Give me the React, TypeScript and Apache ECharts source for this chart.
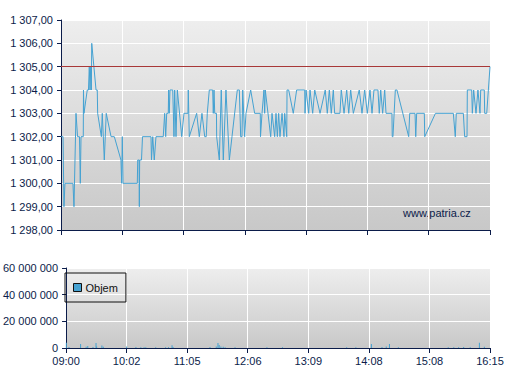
import React, { useEffect, useRef } from "react";
import * as echarts from "echarts";

// trade sequence position (0..420, one tick label per 60) and price
const priceX = [
  0, 2, 2.9, 3.9, 11.7, 12.7, 14.7, 16.2, 18.1, 18.9, 19.6, 21.8, 22.0, 22.5, 25.7, 26.9, 27.7, 28.4, 29.1, 29.7,
  30.1, 34.3, 35.5, 35.9, 39.5, 40.4, 42.4, 44.3, 49.0, 52.2, 58.7, 59.4, 60.0, 60.7, 74.7, 75.1, 76.4, 76.7, 77.0, 78.8,
  79.8, 88.1, 88.6, 89.8, 91.3, 93.0, 100.1, 101.5, 102.5, 103.5, 105.0, 105.4, 106.0, 106.7, 109.4, 110.6, 111.3, 112.6, 113.9, 114.5,
  118.2, 118.7, 120.4, 124.3, 124.6, 125.6, 132.8, 135.4, 138.0, 140.7, 142.2, 143.2, 145.2, 148.5, 149.1, 149.8, 150.5, 152.2, 152.4, 155.0,
  156.9, 158.9, 161.5, 164.8, 167.4, 172.6, 174.6, 175.9, 177.2, 177.9, 179.8, 181.1, 185.7, 189.6, 195.1, 195.3, 196.8, 198.7, 199.4, 200.0,
  205.3, 206.6, 209.2, 210.5, 211.8, 213.1, 214.4, 216.4, 218.3, 219.0, 221.0, 221.3, 222.9, 227.4, 230.7, 238.6, 238.9, 239.9, 242.5, 243.8,
  246.4, 248.4, 253.6, 258.7, 260.7, 262.7, 264.6, 266.6, 267.9, 273.1, 274.4, 277.1, 279.7, 281.7, 283.6, 286.2, 292.0, 294.7, 297.3, 299.9,
  302.5, 304.5, 306.4, 310.3, 311.6, 313.0, 314.9, 316.9, 318.2, 324.0, 324.3, 325.0, 327.3, 328.9, 340.4, 341.4, 346.6, 347.3, 348.2, 355.7,
  356.1, 366.6, 384.1, 386.0, 387.0, 393.9, 395.2, 397.5, 397.8, 402.1, 402.7, 404.0, 406.3, 408.2, 410.2, 410.9, 414.4, 414.8, 416.8, 420,
];
const priceY = [
  1302, 1302, 1299, 1300, 1300, 1299, 1303, 1302, 1302, 1300, 1302, 1302, 1304, 1303, 1304, 1304, 1305, 1304, 1305, 1304,
  1306, 1304, 1304, 1303, 1302, 1303, 1301, 1303, 1302, 1302, 1301, 1300, 1302, 1300, 1300, 1301, 1301, 1299, 1301, 1301,
  1302, 1302, 1301, 1302, 1301, 1302, 1302, 1303, 1302, 1303, 1303, 1304, 1303, 1304, 1304, 1302, 1304, 1302, 1304, 1304,
  1302, 1302, 1303, 1303, 1304, 1302, 1303, 1302, 1303, 1302, 1302, 1303, 1304, 1304, 1303, 1304, 1303, 1303, 1302, 1301,
  1304, 1301, 1304, 1301, 1302, 1304, 1304, 1302, 1302, 1304, 1302, 1303, 1304, 1303, 1303, 1302, 1303, 1304, 1303, 1304,
  1302, 1303, 1302, 1303, 1302, 1303, 1302, 1303, 1302, 1303, 1302, 1304, 1304, 1303, 1304, 1304, 1303, 1304, 1303, 1304,
  1303, 1304, 1303, 1304, 1303, 1304, 1303, 1304, 1303, 1303, 1304, 1303, 1304, 1303, 1304, 1303, 1304, 1303, 1304, 1303,
  1304, 1303, 1304, 1304, 1303, 1304, 1303, 1304, 1303, 1303, 1302, 1302, 1304, 1304, 1302, 1303, 1303, 1302, 1303, 1303,
  1302, 1303, 1303, 1302, 1303, 1303, 1302, 1302, 1304, 1304, 1303, 1304, 1303, 1304, 1303, 1304, 1304, 1303, 1303, 1305,
];

const volumeX = [
  0.3, 2.9, 14.4, 19.9, 21.5, 26.7, 29.7, 30.3, 35.5, 36.9, 60.0, 69.2, 74.1, 77.3, 79.0, 88.8, 98.6, 101.5, 105.0, 106.0,
  142.6, 148.8, 150.5, 151.7, 153.4, 155.7, 157.6, 167.4, 199.0, 214.4, 278.0, 287.1, 302.5, 313.0, 317.2, 320.4, 329.2, 378.6, 384.1, 388.9,
  393.9, 400.4, 409.5, 414.4,
];
const volumeY = [
  4000000, 800000, 3000000, 1000000, 1500000, 800000, 3800000, 1200000, 1800000, 1000000, 1200000, 800000, 600000, 600000, 600000, 500000, 600000, 500000, 2000000, 800000,
  800000, 1200000, 3800000, 2200000, 1200000, 1000000, 600000, 600000, 600000, 500000, 500000, 500000, 3000000, 800000, 1200000, 3000000, 600000, 500000, 600000, 600000,
  800000, 600000, 4000000, 1000000,
];

const timeLabels = ["09:00", "10:02", "11:05", "12:06", "13:09", "14:08", "15:08", "16:15"];
const referencePrice = 1305;
const volumeLegend = "Objem";
const watermark = "www.patria.cz";

const NAVY = "#0b1c4a";
const BLUE = "#45a2d2";
const FONT = "Arial, 'Liberation Sans', sans-serif";

function groupThousands(n: number): string {
  return String(n).replace(/\B(?=(\d{3})+(?!\d))/g, " ");
}

export default function App() {
  const ref = useRef<HTMLDivElement>(null);
  useEffect(() => {
    if (!ref.current) return;
    const chart = echarts.init(ref.current, null, { renderer: "svg" });
    const bg = new echarts.graphic.LinearGradient(0, 0, 0, 1, [
      { offset: 0, color: "#eeeeee" },
      { offset: 1, color: "#c8c8c8" },
    ]);
    const xCommon = {
      type: "value" as const,
      min: 0,
      max: 420,
      interval: 60,
      axisLine: { show: true, lineStyle: { color: NAVY, width: 1 } },
      axisTick: { show: true, length: 5, lineStyle: { color: NAVY } },
      splitLine: { show: true, lineStyle: { color: "#ffffff", width: 1 } },
    };
    chart.setOption({
      animation: false,
      textStyle: { fontFamily: FONT },
      grid: [
        { left: 61, right: 17, top: 20, height: 210, show: true, backgroundColor: bg, borderWidth: 0 },
        { left: 61, right: 17, top: 268, height: 80, show: true, backgroundColor: bg, borderWidth: 0 },
      ],
      legend: {
        data: [volumeLegend],
        left: 65,
        top: 273,
        padding: [9, 8, 9, 8],
        borderColor: "#111111",
        borderWidth: 1,
        itemWidth: 8,
        itemHeight: 8,
        itemGap: 5,
        icon: "rect",
        itemStyle: { borderColor: "#111111", borderWidth: 1 },
        textStyle: { color: "#111111", fontSize: 11, fontFamily: FONT, padding: [0, 0, 0, -1] },
      },
      xAxis: [
        { ...xCommon, gridIndex: 0, axisLabel: { show: false } },
        {
          ...xCommon,
          gridIndex: 1,
          axisLabel: {
            show: true,
            color: NAVY,
            fontSize: 11,
            fontFamily: FONT,
            margin: 7,
            formatter: (v: number) => timeLabels[Math.round(v / 60)] ?? "",
          },
        },
      ],
      yAxis: [
        {
          type: "value",
          gridIndex: 0,
          min: 1298,
          max: 1307,
          interval: 1,
          axisLine: { show: true, lineStyle: { color: NAVY, width: 1 } },
          axisTick: { show: true, length: 4, lineStyle: { color: NAVY } },
          splitLine: { show: true, lineStyle: { color: "#ffffff", width: 1 } },
          axisLabel: {
            color: NAVY,
            fontSize: 11,
            fontFamily: FONT,
            margin: 8,
            formatter: (v: number) => {
              const [i, d] = v.toFixed(2).split(".");
              return groupThousands(Number(i)) + "," + d;
            },
          },
        },
        {
          type: "value",
          gridIndex: 1,
          min: 0,
          max: 60000000,
          interval: 20000000,
          axisLine: { show: true, lineStyle: { color: NAVY, width: 1 } },
          axisTick: { show: true, length: 4, lineStyle: { color: NAVY } },
          splitLine: { show: true, lineStyle: { color: "#ffffff", width: 1 } },
          axisLabel: {
            color: NAVY,
            fontSize: 11,
            fontFamily: FONT,
            margin: 8,
            formatter: (v: number) => groupThousands(v),
          },
        },
      ],
      series: [
        {
          name: "Cena",
          type: "line",
          xAxisIndex: 0,
          yAxisIndex: 0,
          data: priceX.map((x, i) => [x, priceY[i]]),
          showSymbol: false,
          lineStyle: { color: BLUE, width: 1 },
          itemStyle: { color: BLUE },
          markLine: {
            silent: true,
            symbol: "none",
            label: { show: false },
            lineStyle: { color: "#a83838", width: 1, type: "solid" },
            data: [{ yAxis: referencePrice }],
          },
        },
        {
          name: volumeLegend,
          type: "bar",
          xAxisIndex: 1,
          yAxisIndex: 1,
          barWidth: 1,
          data: volumeX.map((x, i) => [x, volumeY[i]]),
          itemStyle: { color: BLUE },
        },
      ],
      graphic: [
        {
          type: "text",
          left: 403,
          top: 207,
          style: { text: watermark, fill: NAVY, font: `11px Arial, "Liberation Sans", sans-serif` },
        },
      ],
    });
    return () => chart.dispose();
  }, []);
  return <div ref={ref} style={{ width: 507, height: 380, position: "absolute", left: 0, top: 0 }} />;
}
